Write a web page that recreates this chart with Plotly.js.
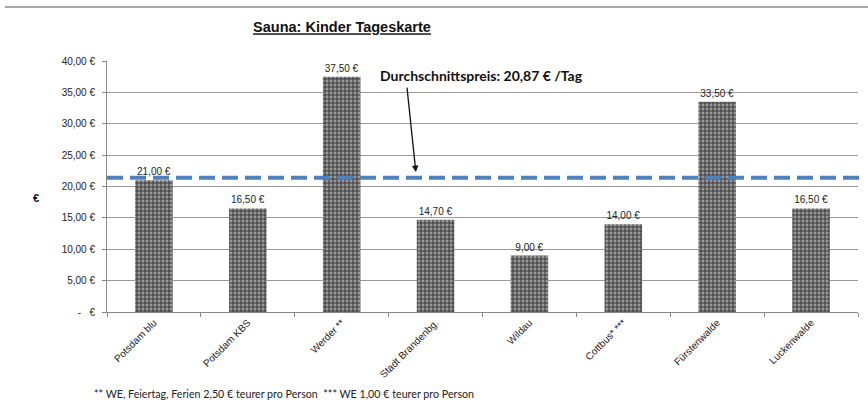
<!DOCTYPE html>
<html>
<head>
<meta charset="utf-8">
<script src="https://cdn.plot.ly/plotly-3.0.1.min.js"></script>
<style>html,body{margin:0;padding:0;background:#fff;}#chart{width:868px;height:419px;}</style>
</head>
<body>
<div id="chart"></div>
<script>
const categories = ["Potsdam blu", "Potsdam KBS", "Werder **", "Stadt Brandenbg.", "Wildau", "Cottbus* ***", "Fürstenwalde", "Luckenwalde"];
const prices = [21.00, 16.50, 37.50, 14.70, 9.00, 14.00, 33.50, 16.50];
const averageLine = 21.4;
const averageText = "Durchschnittspreis: 20,87 € /Tag";
const yTickVals = [0, 5, 10, 15, 20, 25, 30, 35, 40];
const yTickText = ["-   €", "5,00 €", "10,00 €", "15,00 €", "20,00 €", "25,00 €", "30,00 €", "35,00 €", "40,00 €"];
const footnote = "** WE, Feiertag, Ferien 2,50 € teurer pro Person  *** WE 1,00 € teurer pro Person";

const fmt = v => v.toFixed(2).replace('.', ',') + ' €';

const trace = {
  type: 'bar',
  x: categories,
  y: prices,
  text: prices.map(fmt),
  textposition: 'outside',
  cliponaxis: false,
  textfont: {family: 'Liberation Sans, Arial, sans-serif', size: 10, color: '#222'},
  marker: {
    color: '#7a7a7a',
    line: {width: 0},
    pattern: {shape: '+', fgcolor: '#3a3a3a', bgcolor: '#9a9a9a', size: 4, solidity: 0.45}
  },
  hoverinfo: 'none'
};

const layout = {
  width: 868, height: 419,
  margin: {l: 107, r: 10, t: 61, b: 107},
  paper_bgcolor: '#fff', plot_bgcolor: '#fff',
  bargap: 0.6,
  showlegend: false,
  title: {
    text: '<b><u>Sauna: Kinder Tageskarte</u></b>',
    font: {family: 'Liberation Sans, Arial, sans-serif', size: 14.5, color: '#111'},
    x: 0.394, xanchor: 'center', y: 0.935, yanchor: 'middle'
  },
  xaxis: {
    type: 'category',
    tickangle: -45,
    tickfont: {family: 'Liberation Sans, Arial, sans-serif', size: 10, color: '#222'},
    showline: true, linecolor: '#888', linewidth: 1,
    ticks: 'outside', tickson: 'boundaries', ticklen: 4, tickcolor: '#888',
    showgrid: false, zeroline: false
  },
  yaxis: {
    range: [0, 40],
    tickvals: yTickVals, ticktext: yTickText,
    tickfont: {family: 'Liberation Sans, Arial, sans-serif', size: 10, color: '#222'},
    ticklabelstandoff: 5,
    showgrid: true, gridcolor: '#9a9a9a', gridwidth: 1,
    showline: true, linecolor: '#888', linewidth: 1,
    ticks: 'outside', ticklen: 4, tickcolor: '#888',
    zeroline: false
  },
  shapes: [
    {type: 'line', xref: 'paper', yref: 'y', x0: 0, x1: 1.003, y0: averageLine, y1: averageLine,
     line: {color: '#4f81bd', width: 4, dash: '16px,7px'}},
    {type: 'line', xref: 'paper', yref: 'paper', x0: -0.136, x1: 1.014, y0: 1.215, y1: 1.215,
     line: {color: '#888', width: 1.5}}
  ],
  annotations: [
    {xref: 'x', yref: 'y', x: 2.79, y: 22.3, text: '', showarrow: true,
     arrowhead: 2, arrowsize: 1, arrowwidth: 1.3, arrowcolor: '#111', ax: -9, ay: -86},
    {xref: 'paper', yref: 'paper', x: (378 - 107) / 751, y: (312 - 76) / 251, xanchor: 'left', yanchor: 'middle',
     text: '<b>' + averageText + '</b>', showarrow: false,
     font: {family: 'Lato, Calibri, sans-serif', size: 14, color: '#111'}},
    {xref: 'paper', yref: 'paper', x: (36 - 107) / 751, y: (312 - 198) / 251, xanchor: 'center', yanchor: 'middle',
     text: '<b>€</b>', showarrow: false,
     font: {family: 'Liberation Sans, Arial, sans-serif', size: 11, color: '#111'}},
    {xref: 'paper', yref: 'paper', x: (92 - 107) / 751, y: (312 - 393) / 251, xanchor: 'left', yanchor: 'middle',
     text: footnote, showarrow: false,
     font: {family: 'Lato, Calibri, sans-serif', size: 10.7, color: '#222'}}
  ]
};

Plotly.newPlot('chart', [trace], layout, {staticPlot: true, displayModeBar: false});
</script>
</body>
</html>
